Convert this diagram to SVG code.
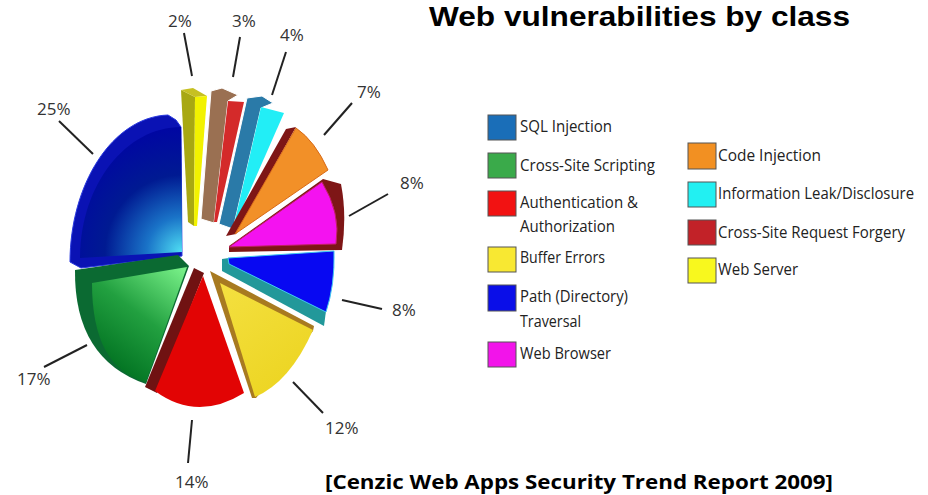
<svg xmlns="http://www.w3.org/2000/svg" width="928" height="495" viewBox="0 0 928 495">
<defs>
<style>
.pct{font-family:"Open Sans","Liberation Sans",sans-serif;font-size:17px;fill:#333}
.lbl{font-family:"Open Sans","Liberation Sans",sans-serif;font-size:16px;fill:#222}
.ttl{font-family:"Open Sans","Liberation Sans",sans-serif;font-weight:700;fill:#000}
.head{font-family:"Liberation Sans",Arial,sans-serif;font-weight:700;fill:#000}
.leader{stroke:#222;stroke-width:2;fill:none}
.box{stroke:#555;stroke-width:1}
.edge{stroke:#fff;stroke-width:1;stroke-linejoin:round}
</style>
<radialGradient id="gSql" gradientUnits="userSpaceOnUse" cx="182" cy="252" r="140">
<stop offset="0" stop-color="#50e0f4"/>
<stop offset="0.25" stop-color="#1a74c8"/>
<stop offset="0.55" stop-color="#001a92"/>
<stop offset="1" stop-color="#0000a8"/>
</radialGradient>
<linearGradient id="gXss" gradientUnits="userSpaceOnUse" x1="185" y1="270" x2="110" y2="370">
<stop offset="0" stop-color="#78f088"/>
<stop offset="0.5" stop-color="#22a040"/>
<stop offset="1" stop-color="#007020"/>
</linearGradient>
<linearGradient id="gBuf" gradientUnits="userSpaceOnUse" x1="220" y1="283" x2="300" y2="390">
<stop offset="0" stop-color="#f4e040"/>
<stop offset="1" stop-color="#ecd420"/>
</linearGradient>
</defs>
<rect width="928" height="495" fill="#fff"/>

<text class="head" x="429" y="26" font-size="28" textLength="421" lengthAdjust="spacingAndGlyphs">Web vulnerabilities by class</text>

<g id="slice-sql">
<path d="M168,115 C112,117 70,185 70,262 L81,268 L182,256 L181,127 L176,120 Z" fill="#0a12b4" stroke="#2a3ae0" stroke-width="1"/>
<path d="M181,127 C125,127 80,186 80,258 L182,252 Z" fill="url(#gSql)"/>
</g>
<g id="slice-webserver">
<path d="M181,90 L195,97 L194,226 L188,222 Z" fill="#a8a812"/>
<path d="M181,90 L193,88 L207,96 L195,97 Z" fill="#c6c022"/>
<path d="M195,97 L207,96 L197,226 L194,226 Z" fill="#f2f200"/>
</g>
<g id="slice-csrf">
<path d="M211,91 L222,88 L238,95 L228,101 L214,223 L201,219 Z" fill="#9a7052" class="edge"/>
<path d="M228,101 L244,102 L217,222 L214,222 Z" fill="#d42a2a"/>
</g>
<g id="slice-infoleak">
<path d="M247,98 L262,96 L273,103 L261,108 L233,229 L219,224 Z" fill="#2a7aa8" class="edge"/>
<path d="M261,107 L284,113 L233,229 Z" fill="#22eef6"/>
</g>
<g id="slice-code">
<path d="M286,129 L296,127 L236,234 L226,236 Z" fill="#7e1616"/>
<path d="M296,128 Q315,141 328,170 L235,234 Z" fill="#f29028" stroke="#d86a18" stroke-width="1"/>
</g>
<g id="slice-webbrowser">
<path d="M323,179 L341,184 Q347,215 342,250 L229,252 L229,246 Z" fill="#7e1616"/>
<path d="M322,182 Q341,213 336,244 L229,247 Z" fill="#f412f0" stroke="#c02060" stroke-width="1"/>
</g>
<g id="slice-path">
<path d="M222,259 L229,258 L326,311 L324,326 L222,271 Z" fill="#22989a"/>
<path d="M228,258 L334,251 Q335,285 326,312 L229,264 Z" fill="#0808f2" stroke="#40c8f0" stroke-width="1"/>
</g>
<g id="slice-buffer">
<path d="M210,271 L314,326 L313,331 L256,398 L252,398 Z" fill="#a87a20"/>
<path d="M220,283 L313,330 Q290,382 255,397 Z" fill="url(#gBuf)"/>
</g>
<g id="slice-auth">
<path d="M194,268 L204,273 L157,393 L145,387 Z" fill="#701212"/>
<path d="M203,276 L244,393 Q197,422 155,391 Z" fill="#e20404"/>
</g>
<g id="slice-xss">
<path d="M75,270 L178,255 L189,266 L146,384 Q74,359 75,270 Z" fill="#0b6a32"/>
<path d="M92,283 L187,267 L146,382 Q92,368 92,283 Z" fill="url(#gXss)"/>
</g>

<g id="connectors">
<line class="leader" x1="184" y1="33" x2="192" y2="76"/>
<line class="leader" x1="240" y1="37" x2="233" y2="77"/>
<line class="leader" x1="286" y1="52" x2="272" y2="95"/>
<line class="leader" x1="352" y1="103" x2="324" y2="135"/>
<line class="leader" x1="388" y1="194" x2="349" y2="216"/>
<line class="leader" x1="342" y1="300" x2="382" y2="309"/>
<line class="leader" x1="293" y1="382" x2="323" y2="413"/>
<line class="leader" x1="192" y1="420" x2="188" y2="463"/>
<line class="leader" x1="44" y1="367" x2="87" y2="345"/>
<line class="leader" x1="59" y1="121" x2="93" y2="154"/>
</g>

<g id="percent-labels">
<text class="pct" x="168" y="27">2%</text>
<text class="pct" x="232" y="27">3%</text>
<text class="pct" x="280" y="41">4%</text>
<text class="pct" x="357" y="98">7%</text>
<text class="pct" x="400" y="189">8%</text>
<text class="pct" x="392" y="316">8%</text>
<text class="pct" x="325" y="434">12%</text>
<text class="pct" x="175" y="488">14%</text>
<text class="pct" x="17" y="385">17%</text>
<text class="pct" x="37" y="115">25%</text>
</g>

<g id="legend-sql"><rect class="box" x="488" y="115" width="28" height="25" fill="#1a6eb8"/><text class="lbl" x="520" y="132" textLength="92" lengthAdjust="spacingAndGlyphs">SQL Injection</text></g>
<g id="legend-xss"><rect class="box" x="488" y="153" width="28" height="25" fill="#3aaa4a"/><text class="lbl" x="520" y="171" textLength="135" lengthAdjust="spacingAndGlyphs">Cross-Site Scripting</text></g>
<g id="legend-auth"><rect class="box" x="488" y="191" width="28" height="25" fill="#f21212"/><text class="lbl" x="520" y="208" textLength="118" lengthAdjust="spacingAndGlyphs">Authentication &amp;</text><text class="lbl" x="520" y="232" textLength="95" lengthAdjust="spacingAndGlyphs">Authorization</text></g>
<g id="legend-buffer"><rect class="box" x="488" y="247" width="28" height="25" fill="#f8e832"/><text class="lbl" x="520" y="263" textLength="85" lengthAdjust="spacingAndGlyphs">Buffer Errors</text></g>
<g id="legend-path"><rect class="box" x="488" y="285" width="28" height="26" fill="#0a0ee8"/><text class="lbl" x="520" y="302" textLength="108" lengthAdjust="spacingAndGlyphs">Path (Directory)</text><text class="lbl" x="520" y="327" textLength="61" lengthAdjust="spacingAndGlyphs">Traversal</text></g>
<g id="legend-webbrowser"><rect class="box" x="488" y="342" width="28" height="25" fill="#f214ea"/><text class="lbl" x="520" y="359" textLength="91" lengthAdjust="spacingAndGlyphs">Web Browser</text></g>
<g id="legend-code"><rect class="box" x="688" y="143" width="28" height="26" fill="#f29022"/><text class="lbl" x="718" y="161" textLength="103" lengthAdjust="spacingAndGlyphs">Code Injection</text></g>
<g id="legend-infoleak"><rect class="box" x="688" y="182" width="28" height="25" fill="#22f0f2"/><text class="lbl" x="718" y="199" textLength="196" lengthAdjust="spacingAndGlyphs">Information Leak/Disclosure</text></g>
<g id="legend-csrf"><rect class="box" x="688" y="220" width="28" height="25" fill="#c22228"/><text class="lbl" x="718" y="238" textLength="187" lengthAdjust="spacingAndGlyphs">Cross-Site Request Forgery</text></g>
<g id="legend-webserver"><rect class="box" x="688" y="258" width="28" height="25" fill="#f8f81e"/><text class="lbl" x="718" y="275" textLength="80" lengthAdjust="spacingAndGlyphs">Web Server</text></g>

<text class="ttl" x="325" y="489" font-size="20" textLength="508" lengthAdjust="spacingAndGlyphs">[Cenzic Web Apps Security Trend Report 2009]</text>
</svg>
